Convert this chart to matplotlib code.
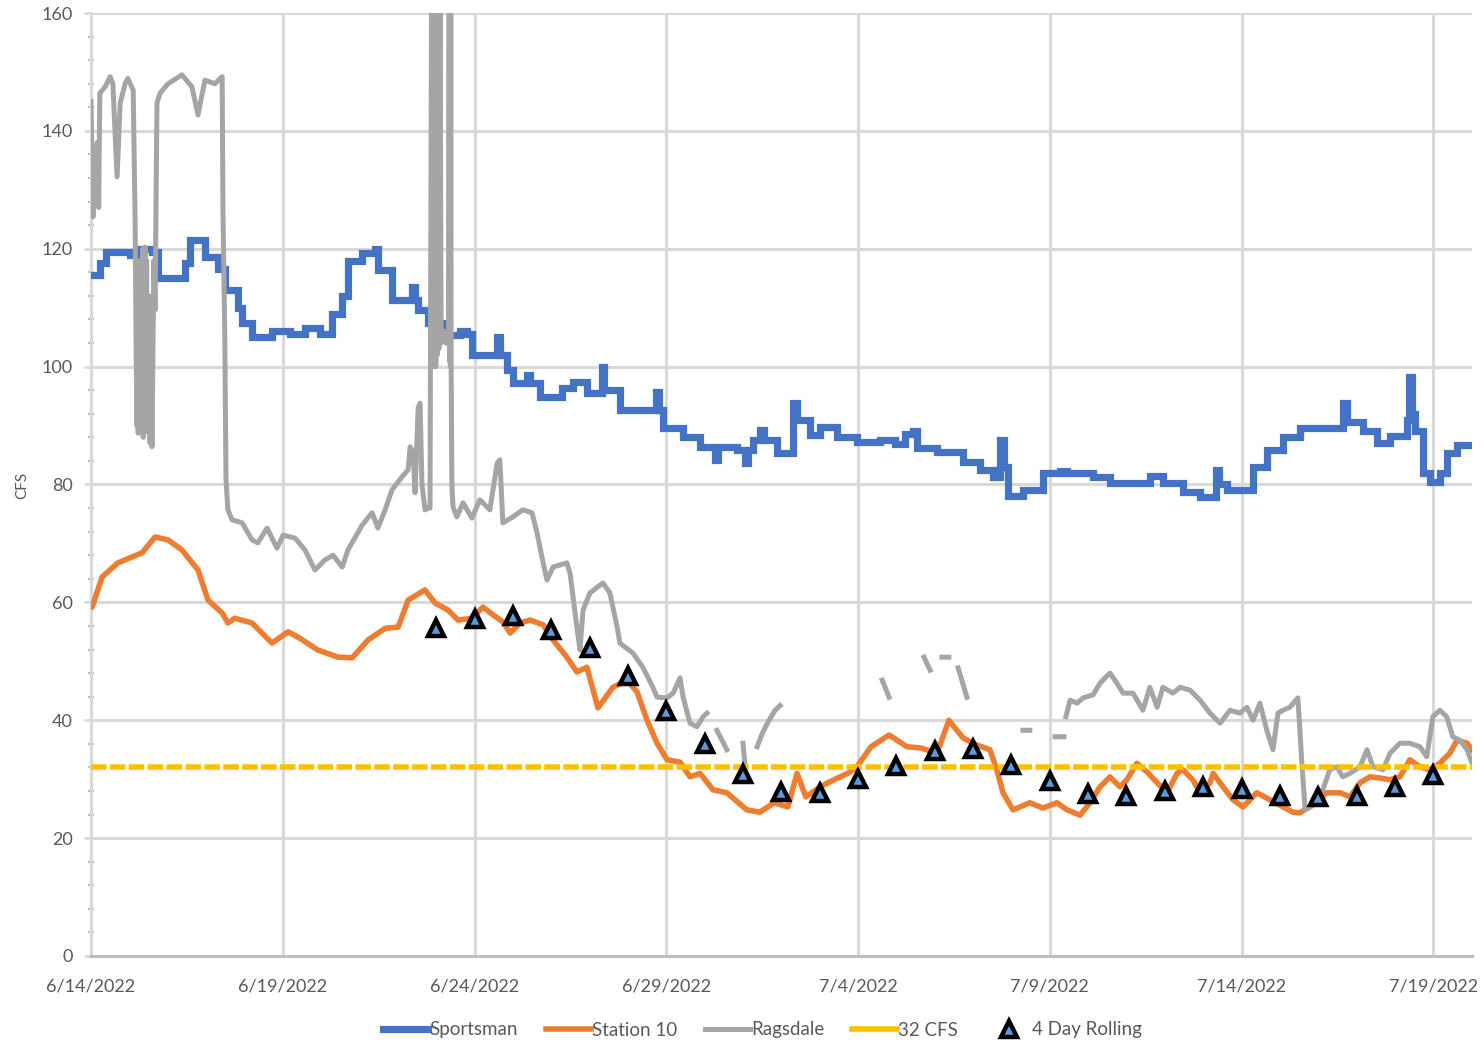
import numpy as np
import pandas as pd
import matplotlib
matplotlib.use("Agg")
import matplotlib.pyplot as plt
import matplotlib.dates as mdates
from matplotlib.ticker import MultipleLocator, FuncFormatter
from matplotlib.lines import Line2D

# ---------------- data (days since 6/14/2022, CFS) ----------------
start_date = "2022-06-14"

sportsman_days = [0.00, 0.23, 0.39, 1.02, 1.28, 1.59, 1.75, 2.45, 2.58, 2.97, 3.31, 3.49, 3.83, 3.94,
                  4.20, 4.72, 5.19, 5.58, 5.97, 6.28, 6.55, 6.70, 7.07, 7.41, 7.48, 7.85, 8.37, 8.45,
                  8.53, 8.79, 9.15, 9.62, 9.80, 9.93, 10.59, 10.66, 10.85, 11.00, 11.37, 11.45, 11.71,
                  12.28, 12.57, 12.93, 13.33, 13.38, 13.79, 14.73, 14.81, 14.92, 15.44, 15.88, 16.27,
                  16.35, 16.84, 17.05, 17.13, 17.26, 17.44, 17.55, 17.89, 18.31, 18.41, 18.75, 19.01,
                  19.45, 19.97, 20.57, 20.96, 21.23, 21.43, 21.54, 22.06, 22.74, 23.18, 23.52, 23.70,
                  23.81, 23.91, 24.30, 24.82, 25.27, 25.45, 26.13, 26.57, 27.61, 27.95, 28.47, 28.92,
                  29.33, 29.41, 29.62, 30.30, 30.66, 31.08, 31.52, 32.38, 32.64, 32.74, 33.16, 33.53,
                  33.87, 34.31, 34.37, 34.45, 34.52, 34.73, 34.91, 35.17, 35.35, 35.62, 36.01]
sportsman_cfs = [115.5, 117.5, 119.5, 119.0, 120.0, 119.5, 115.0, 117.5, 121.5, 118.6, 116.5, 113.0, 110.0, 107.4,
                 105.0, 106.0, 105.5, 106.5, 105.5, 109.0, 112.0, 118.0, 119.3, 120.0, 116.4, 111.3, 113.5, 111.3,
                 109.6, 107.4, 105.4, 106.0, 105.6, 102.0, 105.0, 102.0, 99.4, 97.2, 98.5, 97.2, 94.9,
                 96.4, 97.4, 95.6, 100.0, 96.0, 92.6, 95.7, 92.6, 89.6, 88.0, 86.4, 84.2,
                 86.4, 85.9, 83.7, 85.9, 87.5, 89.2, 87.5, 85.3, 93.8, 90.9, 88.4, 89.7,
                 88.0, 87.2, 87.5, 86.8, 88.5, 89.0, 86.2, 85.5, 83.8, 82.5, 81.3, 87.5,
                 83.0, 78.0, 79.0, 82.0, 82.3, 82.0, 81.3, 80.2, 81.5, 80.2, 78.7, 77.9,
                 82.4, 80.0, 79.0, 83.0, 85.9, 88.0, 89.6, 89.6, 93.8, 90.6, 89.0, 87.0,
                 88.3, 91.0, 98.2, 92.0, 89.0, 82.0, 80.4, 82.0, 85.3, 86.7, 86.7]

station10_days = [0.00, 0.03, 0.29, 0.70, 1.33, 1.67, 2.01, 2.37, 2.79, 3.05, 3.42, 3.57, 3.75, 4.20,
                  4.72, 5.14, 5.40, 5.92, 6.44, 6.81, 7.22, 7.67, 8.01, 8.27, 8.71, 8.97, 9.31, 9.57,
                  9.93, 10.22, 10.48, 10.74, 10.93, 11.19, 11.45, 11.79, 12.05, 12.41, 12.67, 12.93,
                  13.22, 13.61, 13.98, 14.24, 14.50, 14.76, 15.02, 15.36, 15.62, 15.88, 16.22, 16.58,
                  17.10, 17.44, 17.81, 18.17, 18.41, 18.64, 19.01, 19.37, 19.74, 19.97, 20.34, 20.81,
                  21.28, 21.64, 22.06, 22.37, 22.74, 23.10, 23.44, 23.62, 23.78, 24.04, 24.48, 24.82,
                  25.19, 25.45, 25.79, 26.05, 26.31, 26.57, 26.83, 27.01, 27.27, 27.54, 27.80, 28.06,
                  28.32, 28.47, 28.73, 28.92, 29.18, 29.26, 29.52, 29.78, 30.04, 30.40, 30.74, 31.00,
                  31.34, 31.52, 31.86, 32.22, 32.57, 32.83, 33.09, 33.35, 33.61, 33.87, 34.13, 34.39,
                  34.65, 34.91, 35.17, 35.43, 35.62, 35.88, 36.01]
station10_cfs = [59.5, 59.2, 64.3, 66.7, 68.4, 71.1, 70.6, 68.9, 65.5, 60.4, 58.2, 56.5, 57.3, 56.5,
                 53.1, 55.0, 54.1, 51.9, 50.7, 50.6, 53.6, 55.6, 55.8, 60.4, 62.1, 59.9, 58.7, 57.0,
                 57.3, 59.2, 57.9, 56.7, 54.8, 56.5, 57.0, 56.2, 53.6, 50.7, 48.2, 49.0,
                 42.1, 45.6, 46.8, 44.8, 40.0, 36.1, 33.3, 32.9, 30.4, 31.0, 28.2, 27.7,
                 24.8, 24.4, 26.0, 25.3, 31.0, 27.0, 28.7, 29.9, 31.0, 32.1, 35.5, 37.5,
                 35.5, 35.3, 34.4, 40.0, 37.0, 35.8, 35.0, 31.6, 27.7, 24.8, 26.0, 25.1,
                 26.0, 24.8, 23.9, 26.0, 28.7, 30.4, 28.7, 29.9, 32.7, 31.2, 29.4, 27.7,
                 31.0, 31.6, 29.9, 27.7, 29.4, 31.0, 28.7, 26.5, 25.3, 27.7, 26.5, 25.6,
                 24.4, 24.3, 25.6, 27.7, 27.7, 27.0, 29.4, 30.4, 30.2, 29.9, 30.4, 33.3,
                 32.1, 31.6, 32.7, 34.4, 36.6, 36.1, 35.0]

# gaps in the Ragsdale record are marked with NaN
ragsdale_days = [0.00, 0.03, 0.05, 0.10, 0.16, 0.20, 0.23, 0.37, 0.50, 0.57, 0.68, 0.76, 0.89, 0.96, 1.10, 1.15,
                 1.18, 1.20, 1.22, 1.23, 1.25, 1.28, 1.30, 1.33, 1.35, 1.36, 1.38, 1.41, 1.43, 1.45, 1.47,
                 1.49, 1.51, 1.54, 1.56, 1.59, 1.64, 1.67, 1.72, 1.80,
                 2.01, 2.37, 2.63, 2.79, 2.97, 3.23, 3.42, 3.44, 3.49, 3.52, 3.57, 3.68, 3.94, 4.20,
                 4.35, 4.59, 4.85, 5.01, 5.32, 5.58, 5.84, 6.10, 6.31, 6.55, 6.70, 7.07, 7.33, 7.48,
                 7.67, 7.85, 8.11, 8.27, 8.32, 8.40, 8.45, 8.53, 8.58, 8.63, 8.71, 8.79, 8.84, 8.86,
                 8.87, 8.88, 8.89, 8.90, 8.91, 8.92, 8.93, 8.94, 8.95, 8.96, 8.97, 8.98, 8.99, 9.00,
                 9.01, 9.02, 9.03, 9.04, 9.05, 9.06, 9.07, 9.08, 9.09, 9.10, 9.13, 9.20, 9.26, 9.32,
                 9.34, 9.35, 9.36, 9.37, 9.38, 9.39, 9.41, 9.44,
                 9.54, 9.70, 9.93, 10.14, 10.40, 10.59, 10.66, 10.74, 11.00, 11.26, 11.50, 11.63,
                 11.79, 11.89, 12.05, 12.41, 12.49, 12.67, 12.75, 12.83, 13.01, 13.35, 13.53, 13.72,
                 13.79, 14.13, 14.39, 14.65, 14.76, 15.02, 15.18, 15.36, 15.44, 15.62, 15.80, 15.96,
                 16.06, 16.20,
                 16.32, 16.58, 16.80,
                 17.00, 17.05, 17.20,
                 17.37, 17.52, 17.68, 17.84, 17.97, 18.20,
                 20.63, 20.81, 21.20,
                 21.72, 21.88, 22.00,
                 22.19, 22.37, 22.50,
                 22.61, 22.84, 23.50,
                 24.30, 24.48, 24.80,
                 25.14, 25.37, 25.40,
                 25.42, 25.53, 25.71, 25.87, 26.13, 26.31, 26.57, 26.75, 26.91, 27.17, 27.43, 27.61,
                 27.80, 27.95, 28.21, 28.40, 28.66, 28.92, 29.18, 29.44, 29.70, 29.96, 30.14, 30.30,
                 30.48, 30.66, 30.82, 30.95, 31.08, 31.26, 31.47, 31.58, 31.66, 31.79, 31.97, 32.12,
                 32.30, 32.49, 32.64, 32.83, 33.09, 33.27, 33.43, 33.69, 33.87, 34.13, 34.39, 34.65,
                 34.83, 34.99, 35.17, 35.35, 35.51, 35.70, 35.88, 36.01]
ragsdale_cfs = [145.0, 135.0, 125.4, 131.0, 138.0, 127.0, 146.4, 147.5, 149.2, 148.0, 132.2, 144.7, 148.0, 148.9, 146.9, 124.9,
                100.0, 90.0, 115.0, 88.7, 105.0, 118.0, 92.0, 101.0, 120.0, 88.0, 110.0, 120.3, 95.0, 118.0, 89.0,
                92.6, 112.0, 87.0, 105.0, 86.4, 118.0, 109.6, 144.7, 146.4,
                148.0, 149.5, 147.5, 142.7, 148.6, 148.0, 149.2, 127.0, 104.5, 80.8, 75.7, 74.0, 73.5, 70.6,
                70.1, 72.6, 69.2, 71.4, 70.9, 68.9, 65.5, 67.2, 68.0, 66.0, 68.9, 73.1, 75.2, 72.6,
                75.7, 79.1, 81.3, 82.5, 86.4, 85.5, 78.6, 93.0, 93.8, 80.0, 75.7, 76.0, 76.0, 120.0,
                140.0, 165.0, 104.0, 165.0, 100.0, 165.0, 104.0, 165.0, 102.0, 165.0, 104.0, 165.0, 100.0, 165.0,
                104.0, 165.0, 102.0, 165.0, 104.0, 165.0, 103.0, 165.0, 104.0, 165.0, 104.0, 106.0, 104.0, 104.0,
                165.0, 101.0, 165.0, 100.0, 165.0, 101.0, 80.0, 76.2,
                74.5, 76.9, 74.3, 77.4, 75.7, 83.6, 84.2, 73.5, 74.5, 75.7, 75.2, 71.8,
                66.7, 63.8, 66.0, 66.7, 65.0, 55.8, 51.9, 58.7, 61.6, 63.3, 61.6, 55.8,
                53.1, 51.4, 49.0, 45.6, 43.9, 43.8, 44.6, 47.2, 43.9, 39.5, 38.9, 40.6,
                41.2, np.nan,
                38.3, 35.0, np.nan,
                36.1, 32.7, np.nan,
                35.5, 38.0, 40.0, 41.7, 42.5, np.nan,
                46.8, 43.9, np.nan,
                50.7, 48.5, np.nan,
                50.7, 50.7, np.nan,
                48.9, 43.9, np.nan,
                38.3, 38.3, np.nan,
                37.2, 37.2, np.nan,
                40.6, 43.4, 42.9, 43.8, 44.3, 46.3, 48.0, 46.3, 44.6, 44.6, 41.7, 45.6,
                42.2, 45.6, 44.6, 45.6, 45.1, 43.4, 41.2, 39.5, 41.7, 41.2, 42.2, 40.0,
                42.9, 38.3, 35.0, 41.2, 41.7, 42.2, 43.8, 32.1, 24.8, 25.3, 27.0, 28.2,
                31.6, 32.1, 30.4, 31.0, 32.1, 35.0, 32.1, 31.6, 34.4, 36.1, 36.1, 35.5,
                33.8, 40.6, 41.7, 40.6, 37.2, 36.6, 35.0, 32.7]

target_days = [0.0, 36.01]
target_cfs = [32, 32]

rolling_days = list(range(9, 36))
rolling_cfs = [55.6, 57.2, 57.7, 55.3, 52.3, 47.5, 41.6, 36.0, 30.9, 27.8, 27.7, 30.0, 32.2, 34.8,
               35.1, 32.4, 29.7, 27.5, 27.1, 28.0, 28.7, 28.3, 27.1, 27.0, 27.1, 28.7, 30.7]

y_ticks = [0, 20, 40, 60, 80, 100, 120, 140, 160]
x_tick_days = [0, 5, 10, 15, 20, 25, 30, 35]


def to_dates(days):
    return pd.Timestamp(start_date) + pd.to_timedelta(np.asarray(days, dtype=float), unit="D")


# ---------------- figure ----------------
plt.rcParams['font.family'] = ['Lato', 'DejaVu Sans']
fig = plt.figure(figsize=(14.84, 10.48), dpi=100)
ax = fig.add_axes([91 / 1484, 1 - 956 / 1048, (1472 - 91) / 1484, (956 - 13) / 1048])

blue, orange, gray, yellow = '#4472C4', '#ED7D31', '#A5A5A5', '#FFC000'
grid_c = '#D9D9D9'
text_c = '#595959'

ax.plot(to_dates(sportsman_days), sportsman_cfs, color=blue, lw=5.2, drawstyle='steps-post',
        solid_joinstyle='miter', label='Sportsman', zorder=3)
ax.plot(to_dates(station10_days), station10_cfs, color=orange, lw=4, label='Station 10', zorder=4)
ax.plot(to_dates(ragsdale_days), ragsdale_cfs, color=gray, lw=3.6, label='Ragsdale', zorder=5)
ax.plot(to_dates(target_days), target_cfs, color=yellow, lw=4, dashes=(2.8, 0.6), label='32 CFS', zorder=6)
ax.plot(to_dates(rolling_days), rolling_cfs, ls='none', marker='^', markersize=11,
        markerfacecolor='#5B9BD5', markeredgecolor='black', markeredgewidth=3.2,
        label='4 Day Rolling', zorder=7)

x0 = pd.Timestamp(start_date)
ax.set_xlim(x0, x0 + pd.Timedelta(days=36.01))
ax.set_ylim(0, 160)
ax.set_yticks(y_ticks)
ax.yaxis.set_minor_locator(MultipleLocator(4))
ax.set_xticks(to_dates(x_tick_days))
ax.xaxis.set_major_formatter(FuncFormatter(
    lambda v, p: (lambda d: f"{d.month}/{d.day}/{d.year}")(mdates.num2date(v))))

ax.grid(True, which='major', color=grid_c, lw=2.2, zorder=0)
ax.set_axisbelow(True)
for s in ['top', 'right']:
    ax.spines[s].set_visible(False)
ax.spines['left'].set_color(grid_c)
ax.spines['left'].set_linewidth(2.2)
ax.spines['bottom'].set_color('#BFBFBF')
ax.spines['bottom'].set_linewidth(2.2)

ax.tick_params(axis='y', which='major', length=5, width=2, color=grid_c, labelsize=13,
               labelcolor=text_c, pad=8)
ax.tick_params(axis='y', which='minor', length=4, width=1.5, color='#BFBFBF', direction='inout')
ax.tick_params(axis='x', which='major', length=0, labelsize=13, labelcolor=text_c, pad=16)

fig.text(22 / 1484, 1 - 485 / 1048, 'CFS', rotation=90, ha='center', va='center',
         fontsize=11, color=text_c)

handles, labels = ax.get_legend_handles_labels()
handles[3] = Line2D([], [], color=yellow, lw=4)
leg = fig.legend(handles, labels, loc='center', bbox_to_anchor=(0.514, 1 - 1030 / 1048), ncol=5,
                 frameon=False, fontsize=13.5, handlelength=2.4, columnspacing=1.5,
                 handletextpad=0.05, labelcolor=text_c)

fig.savefig('out.png', dpi=100)
